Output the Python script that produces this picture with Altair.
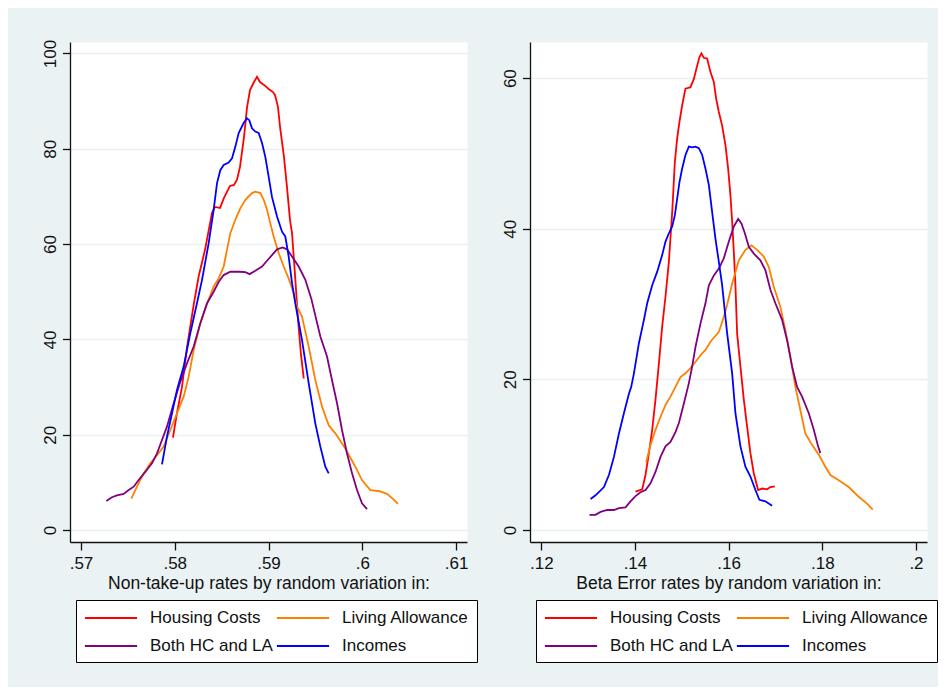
import altair as alt
import pandas as pd

SERIES = ["Housing Costs", "Living Allowance", "Both HC and LA", "Incomes"]
COLORS = ["#FF0000", "#FF8000", "#800080", "#0000FF"]

# ---------- Left panel: non-take-up rates ----------
ntu_hc_x = [0.57981, 0.58024, 0.58077, 0.58131, 0.58205, 0.58255, 0.58323, 0.58397, 0.58429, 0.58483,
            0.58525, 0.58589, 0.58632, 0.58664, 0.58696, 0.58739, 0.58771, 0.58803, 0.58845, 0.58877,
            0.58909, 0.58952, 0.59005, 0.59048, 0.59069, 0.59101, 0.59123, 0.59165, 0.59197, 0.59229,
            0.59251, 0.59283, 0.59315, 0.59347, 0.59376]
ntu_hc_y = [19.4, 24.6, 30.0, 38.4, 47.6, 53.2, 58.8, 66.5, 67.8, 67.6,
            69.7, 72.2, 72.4, 73.5, 76.2, 82.5, 88.7, 92.3, 94.0, 95.1,
            94.0, 93.4, 92.5, 91.9, 91.3, 88.8, 84.6, 78.3, 72.0, 65.1,
            62.3, 53.5, 44.1, 36.7, 31.8]

ntu_la_x = [0.57537, 0.57597, 0.57669, 0.57739, 0.57811, 0.57882, 0.57953, 0.58024, 0.58095, 0.58149,
            0.58202, 0.58273, 0.58355, 0.58415, 0.58469, 0.58522, 0.58557, 0.58593, 0.58646, 0.58699,
            0.58753, 0.58824, 0.58859, 0.58913, 0.58949, 0.58984, 0.59019, 0.59055, 0.59109, 0.59162,
            0.59215, 0.59269, 0.59304, 0.59357, 0.59429, 0.59499, 0.59571, 0.59642, 0.59713, 0.59819,
            0.59926, 0.59997, 0.60086, 0.60175, 0.60264, 0.60335, 0.60381]
ntu_la_y = [6.6, 9.1, 11.9, 14.0, 15.7, 17.5, 21.0, 24.5, 28.0, 32.2,
            37.8, 43.4, 48.0, 51.1, 52.8, 55.3, 58.8, 62.3, 65.1, 67.5,
            69.3, 70.7, 71.0, 70.7, 69.3, 67.2, 64.4, 61.6, 58.1, 55.3,
            52.8, 49.7, 46.9, 44.8, 38.5, 31.5, 25.9, 22.0, 20.3, 17.1,
            13.3, 10.5, 8.4, 8.2, 7.6, 6.4, 5.5]

ntu_both_x = [0.5727, 0.57331, 0.57384, 0.57455, 0.57509, 0.57562, 0.57615, 0.57686, 0.57757, 0.57811,
              0.57864, 0.57917, 0.57989, 0.58059, 0.58131, 0.58202, 0.58273, 0.58344, 0.58415, 0.58469,
              0.58522, 0.58593, 0.58682, 0.58753, 0.58799, 0.58859, 0.58931, 0.58984, 0.59037, 0.59091,
              0.59151, 0.59197, 0.59251, 0.59322, 0.59393, 0.59457, 0.59553, 0.59624, 0.59677, 0.59731,
              0.59784, 0.59837, 0.59891, 0.59944, 0.59997, 0.60051]
ntu_both_y = [6.1, 6.9, 7.3, 7.6, 8.4, 9.1, 10.5, 12.2, 14.0, 16.1,
              18.9, 21.7, 26.6, 31.1, 35.0, 38.5, 43.4, 47.6, 50.0, 52.1,
              53.5, 54.2, 54.2, 54.1, 53.7, 54.4, 55.3, 56.5, 57.7, 58.9,
              59.3, 58.9, 57.4, 55.3, 52.5, 48.5, 40.6, 36.4, 31.5, 26.6,
              21.0, 16.1, 11.9, 8.4, 5.6, 4.4]

ntu_inc_x = [0.57864, 0.57917, 0.57971, 0.58024, 0.58095, 0.58166, 0.58237, 0.58291, 0.58362, 0.58415,
             0.58451, 0.58486, 0.58522, 0.58575, 0.58611, 0.58646, 0.58682, 0.58735, 0.58771, 0.58795,
             0.58824, 0.58859, 0.58895, 0.58931, 0.58966, 0.59002, 0.59037, 0.59091, 0.59144, 0.59179,
             0.59215, 0.59251, 0.59286, 0.59357, 0.59429, 0.59499, 0.59553, 0.59606, 0.59642]
ntu_inc_y = [13.8, 19.6, 24.5, 29.4, 34.3, 41.3, 47.6, 52.5, 60.2, 67.2,
             72.8, 75.5, 76.6, 77.1, 78.0, 80.4, 83.3, 85.4, 86.4, 86.0,
             84.3, 83.6, 83.3, 81.2, 78.3, 74.1, 69.9, 65.8, 62.6, 61.6,
             57.4, 51.8, 47.5, 39.9, 30.8, 22.4, 17.5, 13.3, 11.9]

# ---------- Right panel: beta error rates ----------
be_hc_x = [0.14012, 0.14155, 0.14225, 0.14298, 0.14368, 0.14438, 0.14511, 0.14581, 0.14652, 0.14724,
           0.14795, 0.14852, 0.14901, 0.1495, 0.15008, 0.15078, 0.15136, 0.15185, 0.15258, 0.15313,
           0.15377, 0.1542, 0.15471, 0.15541, 0.15612, 0.15684, 0.15733, 0.15791, 0.15861, 0.15932,
           0.15989, 0.16038, 0.16075, 0.16111, 0.16145, 0.16181, 0.16252, 0.16324, 0.16395, 0.16465,
           0.16538, 0.16629, 0.16715, 0.16821, 0.16892, 0.16986]
be_hc_y = [5.1, 5.4, 7.3, 10.2, 13.3, 17.3, 22.1, 27.0, 31.0, 35.6,
           42.2, 48.9, 52.0, 54.2, 56.4, 58.6, 58.7, 58.8, 59.9, 61.3,
           62.8, 63.3, 62.7, 62.6, 60.8, 59.5, 57.3, 55.5, 53.7, 51.1,
           48.0, 44.5, 40.9, 36.9, 32.5, 26.1, 21.7, 17.3, 13.7, 10.2,
           7.5, 5.3, 5.5, 5.4, 5.7, 5.8]

be_la_x = [0.1424, 0.14332, 0.14438, 0.14545, 0.14652, 0.14758, 0.14865, 0.14972, 0.15078, 0.15185,
           0.15292, 0.15398, 0.15505, 0.15612, 0.15791, 0.15898, 0.15968, 0.16075, 0.16218, 0.16358,
           0.16486, 0.16608, 0.16751, 0.16858, 0.16964, 0.17105, 0.17212, 0.17318, 0.17425, 0.17532,
           0.17638, 0.17781, 0.17924, 0.18065, 0.18172, 0.18351, 0.18564, 0.18778, 0.18955, 0.19076]
be_la_y = [9.0, 11.3, 13.3, 15.0, 16.6, 17.7, 19.0, 20.3, 20.8, 21.5,
           22.3, 23.2, 23.9, 25.0, 26.3, 28.3, 29.9, 32.7, 35.8, 37.2,
           37.8, 37.2, 36.3, 34.9, 32.3, 29.6, 26.5, 23.0, 19.0, 15.9,
           12.8, 11.3, 10.0, 8.4, 7.3, 6.6, 5.7, 4.4, 3.5, 2.7]

be_both_x = [0.1303, 0.13158, 0.13265, 0.13408, 0.13551, 0.13658, 0.13798, 0.13905, 0.14012, 0.14118,
             0.14225, 0.14332, 0.14438, 0.14545, 0.14652, 0.14758, 0.14865, 0.14938, 0.15044, 0.15151,
             0.15221, 0.15292, 0.15398, 0.15505, 0.15578, 0.15684, 0.15791, 0.15898, 0.16004, 0.16111,
             0.16203, 0.16273, 0.16346, 0.16431, 0.16538, 0.16678, 0.16785, 0.16892, 0.16998, 0.17141,
             0.17248, 0.17355, 0.17461, 0.17568, 0.17711, 0.17818, 0.1791, 0.17958]
be_both_y = [2.0, 2.0, 2.4, 2.65, 2.65, 2.9, 3.0, 3.8, 4.5, 5.0,
             5.3, 6.2, 7.7, 9.7, 11.1, 11.7, 13.0, 14.2, 16.8, 19.5,
             21.7, 24.3, 27.4, 30.1, 32.5, 33.8, 34.7, 36.1, 38.3, 40.3,
             41.3, 40.7, 39.4, 37.6, 36.7, 35.8, 34.5, 31.9, 30.1, 27.9,
             25.2, 21.7, 19.0, 17.7, 15.5, 13.3, 11.1, 10.2]

be_inc_x = [0.13052, 0.13158, 0.13338, 0.13444, 0.13551, 0.13658, 0.13764, 0.13871, 0.1392, 0.13978,
            0.14084, 0.14191, 0.14261, 0.14368, 0.14475, 0.14581, 0.14652, 0.14724, 0.14795, 0.14852,
            0.14901, 0.1495, 0.15008, 0.15078, 0.15151, 0.15221, 0.15292, 0.15364, 0.15435, 0.15505,
            0.15578, 0.15648, 0.15718, 0.15791, 0.15861, 0.15968, 0.16075, 0.16145, 0.16252, 0.16358,
            0.16465, 0.16572, 0.16657, 0.16785, 0.16928]
be_inc_y = [4.1, 4.6, 5.7, 7.3, 9.7, 12.8, 15.5, 18.1, 19.0, 20.8,
            24.8, 27.9, 30.1, 32.5, 34.3, 36.5, 38.3, 39.4, 40.3, 41.8,
            44.0, 46.2, 48.0, 49.8, 50.9, 50.8, 50.9, 50.7, 49.8, 48.0,
            45.8, 42.2, 38.7, 35.6, 32.5, 26.1, 20.8, 15.5, 11.1, 8.4,
            7.1, 5.3, 4.0, 3.8, 3.2]

LEFT_TITLE = "Non-take-up rates by random variation in:"
RIGHT_TITLE = "Beta Error rates by random variation in:"
LEFT_XTICKS = [0.57, 0.58, 0.59, 0.6, 0.61]
RIGHT_XTICKS = [0.12, 0.14, 0.16, 0.18, 0.2]
LEFT_YTICKS = [0, 20, 40, 60, 80, 100]
RIGHT_YTICKS = [0, 20, 40, 60]

FONT = "Liberation Sans"
# legend key: a horizontal stroke, drawn as a custom path (unit space scaled by sqrt(size)/2)
LEGEND_KEY = "M-2.9,0H2.9"


def frame(groups):
    rows = []
    for name, xs, ys in groups:
        for i, (x, y) in enumerate(zip(xs, ys)):
            rows.append({"series": name, "x": x, "y": y, "i": i})
    return pd.DataFrame(rows)


left_df = frame([
    (SERIES[0], ntu_hc_x, ntu_hc_y),
    (SERIES[1], ntu_la_x, ntu_la_y),
    (SERIES[2], ntu_both_x, ntu_both_y),
    (SERIES[3], ntu_inc_x, ntu_inc_y),
])
right_df = frame([
    (SERIES[0], be_hc_x, be_hc_y),
    (SERIES[1], be_la_x, be_la_y),
    (SERIES[2], be_both_x, be_both_y),
    (SERIES[3], be_inc_x, be_inc_y),
])


def panel(df, xdom, ydom, xticks, yticks, title):
    return alt.Chart(df).mark_line(strokeWidth=1.8, clip=True).encode(
        x=alt.X("x:Q",
                scale=alt.Scale(domain=xdom, nice=False, zero=False),
                axis=alt.Axis(values=xticks, title=title, grid=False,
                              labelExpr="substring(format(datum.value, '~g'), 1)",
                              tickSize=8, labelPadding=5, titlePadding=3,
                              labelFontSize=17, titleFontSize=17.5)),
        y=alt.Y("y:Q",
                scale=alt.Scale(domain=ydom, nice=False, zero=False),
                axis=alt.Axis(values=yticks, title=None, grid=True,
                              labelAngle=270, labelAlign="center", labelBaseline="bottom",
                              tickSize=7.5, labelPadding=3, labelFontSize=17)),
        color=alt.Color("series:N",
                        scale=alt.Scale(domain=SERIES, range=COLORS),
                        legend=alt.Legend(title=None, orient="none", legendX=6, legendY=558,
                                          columns=2, direction="horizontal",
                                          symbolType=LEGEND_KEY, symbolSize=324, symbolOffset=17,
                                          symbolStrokeWidth=1.8, labelFontSize=17, labelOffset=29,
                                          rowPadding=10, columnPadding=0, padding=8,
                                          strokeColor="black", fillColor="white",
                                          labelLimit=400, labelColor="#111111", labelFont=FONT)),
        order="i:Q",
    ).properties(width=397, height=500)


left = panel(left_df, [0.56883, 0.61117], [-2.5, 102.4], LEFT_XTICKS, LEFT_YTICKS, LEFT_TITLE)
right = panel(right_df, [0.11759, 0.20235], [-1.6, 64.8], RIGHT_XTICKS, RIGHT_YTICKS, RIGHT_TITLE)

chart = alt.hconcat(left, right, spacing=63, bounds="flush").resolve_legend(
    color="independent"
).properties(
    background="#EAF2F3",
    padding={"left": 32, "top": 30, "right": 0, "bottom": 24},
).configure_view(
    fill="white", stroke="transparent"
).configure_axis(
    labelFont=FONT, titleFont=FONT, labelColor="#111111", titleColor="#111111",
    titleFontWeight="normal", domainColor="#111111", tickColor="#111111",
    domainWidth=1.3, tickWidth=1.3, gridColor="#E8F0F2", gridWidth=1.5,
)

chart.save("out.html", embed_options={"renderer": "svg", "actions": False})
